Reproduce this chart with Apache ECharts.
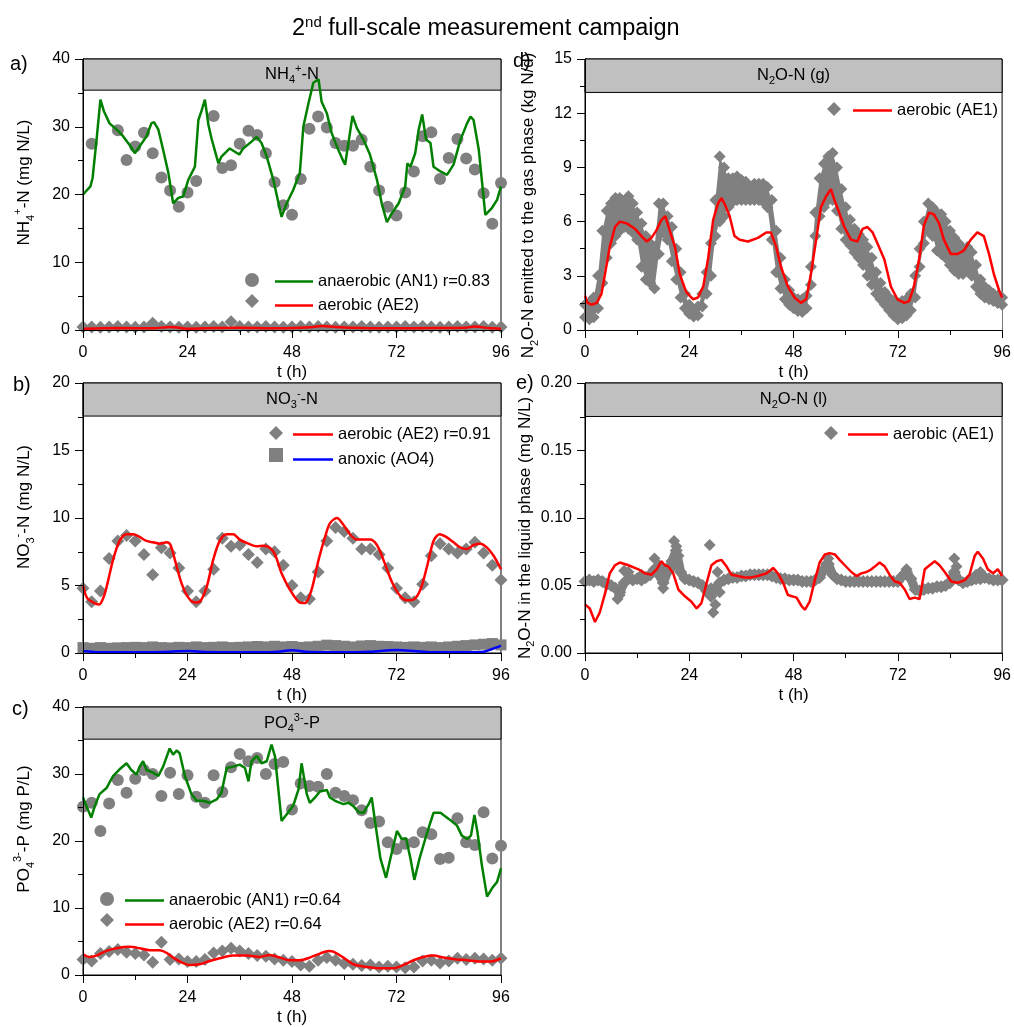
<!DOCTYPE html>
<html>
<head>
<meta charset="utf-8">
<script src="https://cdn.jsdelivr.net/npm/echarts@6/dist/echarts.min.js"></script>
<style>
  html, body { margin: 0; padding: 0; background: #fff; }
  #chart { width: 1014px; height: 1027px; }
</style>
</head>
<body>
<div id="chart"></div>
<script>
// sampling grids (h)
const T2 = [0,2,4,6,8,10,12,14,16,18,20,22,24,26,28,30,32,34,36,38,40,42,44,46,48,50,52,54,56,58,60,62,64,66,68,70,72,74,76,78,80,82,84,86,88,90,92,94,96];
const T1 = [0,1,2,3,4,5,6,7,8,9,10,11,12,13,14,15,16,17,18,19,20,21,22,23,24,25,26,27,28,29,30,31,32,33,34,35,36,37,38,39,40,41,42,43,44,45,46,47,48,49,50,51,52,53,54,55,56,57,58,59,60,61,62,63,64,65,66,67,68,69,70,71,72,73,74,75,76,77,78,79,80,81,82,83,84,85,86,87,88,89,90,91,92,93,94,95,96];

// a) NH4+-N
const nh4AN1Meas = [[2,27.5],[8,29.5],[10,25.1],[12,27.1],[14,29.1],[16,26.1],[18,22.5],[20,20.6],[22,18.2],[24,20.3],[26,22.0],[30,31.6],[32,23.9],[34,24.3],[36,27.5],[38,29.4],[40,28.8],[42,26.1],[44,21.8],[46,18.4],[48,17.0],[50,22.3],[52,29.7],[54,31.5],[56,29.9],[58,27.6],[60,27.2],[62,27.2],[64,28.1],[66,24.1],[68,20.6],[70,18.2],[72,16.9],[74,20.3],[76,23.4],[78,28.6],[80,29.2],[82,22.3],[84,25.4],[86,28.2],[88,25.3],[90,23.7],[92,20.2],[94,15.7],[96,21.7]];
const nh4AN1Model = [[0,20.0],[1.7,21.2],[2.2,22.4],[3.1,28],[4.0,34.0],[4.8,32.3],[6.1,30.5],[7.7,29.6],[9.2,28.6],[10.7,27.3],[11.9,26.1],[13.0,27.1],[14.6,28.6],[15.7,30.5],[16.3,30.7],[17.3,29.6],[18.4,26.6],[19.6,23.2],[20.7,18.7],[21.9,19.5],[23.0,19.7],[24.2,22.2],[25.7,24.1],[26.5,31.0],[27.2,32.3],[28.0,34.0],[28.8,30.3],[29.5,28.3],[31.1,24.6],[31.8,25.6],[33.7,26.8],[35.9,25.9],[36.8,26.8],[38.7,27.8],[39.9,28.5],[41.0,27.6],[42.2,25.6],[43.7,22.2],[45.6,16.7],[46.8,18.7],[48.3,20.7],[49.8,23.2],[50.6,30.0],[51.8,33.5],[52.9,36.5],[54.1,37.0],[54.8,33.7],[56.0,32.0],[57.1,29.1],[58.3,27.1],[59.8,24.9],[60.2,24.4],[61.9,31.6],[62.9,29.8],[64.4,28.1],[65.9,25.9],[67.5,22.2],[68.6,18.7],[69.8,15.9],[70.9,17.2],[72.5,18.7],[74.0,21.2],[74.5,24.6],[75.2,24.1],[76.3,26.1],[77.1,29.6],[77.9,31.8],[78.8,28.1],[79.8,27.6],[80.5,24.1],[82.1,23.4],[83.6,22.9],[85.1,24.4],[86.7,28.1],[88.2,30.5],[89.0,31.5],[89.7,31.0],[90.9,26.6],[92.4,17.0],[93.9,18.0],[95.1,19.2],[96,21.2]];
const nh4AE2Meas = [0.45,0.45,0.4,0.45,0.5,0.45,0.4,0.45,1.0,0.5,0.45,0.4,0.45,0.4,0.45,0.5,0.45,1.2,0.5,0.45,0.45,0.5,0.45,0.4,0.45,0.5,0.45,0.5,0.45,0.4,0.45,0.45,0.5,0.45,0.4,0.45,0.45,0.5,0.45,0.5,0.45,0.4,0.45,0.5,0.45,0.45,0.5,0.4,0.45];
const nh4AE2Model = [[0,0.2],[8,0.3],[16,0.25],[20,0.45],[24,0.2],[30,0.3],[36,0.35],[44,0.25],[48,0.3],[52,0.4],[55,0.6],[58,0.45],[64,0.3],[72,0.25],[80,0.3],[88,0.35],[90,0.5],[93,0.3],[96,0.2]];

// b) NO3--N
const no3AE2Meas = [4.8,3.8,4.6,7.0,8.3,8.7,8.3,7.3,5.8,7.8,7.4,6.3,4.6,3.8,4.6,6.2,8.5,7.9,8.0,7.3,6.7,7.7,7.5,6.5,5.0,4.1,4.0,6.0,8.3,9.3,9.0,8.5,7.7,7.7,7.3,6.3,4.8,4.1,3.8,5.1,7.2,8.1,7.7,7.4,7.7,8.2,7.4,6.5,5.4];
const no3AE2Model = [[0,5.0],[0.9,4.1],[2.3,3.75],[3.7,3.6],[4.8,4.2],[5.8,5.4],[6.9,6.9],[8.4,8.3],[10.0,8.8],[11.5,8.8],[13.0,8.6],[14.6,8.3],[16.1,8.2],[17.6,8.1],[19.2,8.2],[20.1,8.0],[21.1,6.9],[22.6,5.2],[24.2,4.1],[25.7,3.75],[26.8,3.8],[28.4,4.9],[29.9,6.9],[31.4,8.3],[33.0,8.8],[34.5,8.8],[36.0,8.4],[38.0,8.1],[39.9,7.9],[41.4,7.95],[42.9,7.8],[44.1,7.3],[45.6,5.9],[47.5,4.7],[49.5,3.8],[51.0,3.7],[52.5,4.7],[54.1,6.9],[55.6,8.6],[56.7,9.6],[58.3,10.0],[59.8,9.5],[61.3,8.8],[62.9,8.4],[64.4,8.4],[65.9,8.4],[67.5,8.0],[69.0,6.9],[70.9,5.3],[72.9,4.2],[74.4,3.9],[75.9,3.95],[77.5,4.7],[79.0,6.4],[80.5,8.3],[81.9,8.8],[83.4,8.6],[85.1,8.2],[86.7,7.8],[88.2,7.7],[89.7,8.0],[91.3,8.1],[92.8,7.8],[94.3,7.2],[96,6.2]];
const no3AO4Meas = [0.4,0.35,0.4,0.35,0.38,0.4,0.42,0.4,0.45,0.4,0.38,0.42,0.4,0.45,0.4,0.42,0.45,0.4,0.42,0.45,0.48,0.45,0.5,0.45,0.48,0.42,0.45,0.5,0.58,0.55,0.5,0.45,0.52,0.55,0.5,0.48,0.45,0.42,0.45,0.42,0.45,0.4,0.45,0.5,0.55,0.6,0.65,0.7,0.6];
const no3AO4Model = [[0,0.15],[4,0.05],[10,0.05],[20,0.1],[24,0.15],[28,0.08],[36,0.05],[44,0.08],[48,0.2],[52,0.07],[60,0.05],[66,0.1],[72,0.22],[76,0.15],[80,0.05],[88,0.05],[92,0.1],[94,0.3],[96,0.55]];

// c) PO4 3--P
const po4AN1Meas = [[0,25.1],[2,25.7],[4,21.5],[6,25.6],[8,29.1],[10,27.2],[12,29.3],[14,30.6],[16,30.0],[18,26.7],[20,30.2],[22,27.0],[24,29.8],[26,26.6],[28,25.7],[30,29.8],[32,27.3],[34,31.0],[36,33.0],[38,31.9],[40,32.4],[42,30.0],[44,31.5],[46,31.8],[48,24.7],[50,28.6],[52,28.2],[54,28.1],[56,30.0],[58,27.2],[60,26.7],[62,26.1],[64,24.6],[66,22.7],[68,22.9],[70,19.8],[72,18.8],[74,19.6],[76,19.8],[78,21.3],[80,21.0],[82,17.3],[84,17.5],[86,23.4],[88,19.8],[90,19.4],[92,24.3],[94,17.4],[96,19.3]];
const po4AN1Model = [[0,26.5],[0.9,25.0],[1.9,23.5],[2.7,25.2],[3.8,27.0],[5.4,27.9],[6.9,29.7],[8.4,30.7],[10.0,31.6],[11.1,30.6],[12.3,29.9],[13.0,31.1],[13.8,31.9],[14.6,30.6],[16.1,30.2],[17.3,29.7],[18.4,31.1],[19.9,33.8],[20.7,32.9],[21.5,33.5],[22.2,33.1],[23.4,29.7],[24.9,27.0],[26.1,26.0],[27.6,26.0],[29.1,25.7],[30.7,26.2],[31.8,27.2],[33.0,30.9],[34.5,31.1],[36.0,31.4],[37.2,30.9],[38.0,28.9],[38.7,31.9],[39.9,32.7],[41.0,31.6],[42.2,31.9],[43.3,34.4],[44.1,32.6],[45.6,23.0],[46.8,24.0],[48.3,25.3],[49.5,27.7],[50.2,31.6],[51.4,27.0],[52.1,25.7],[53.3,26.5],[54.4,27.4],[56.0,27.6],[56.7,26.5],[57.9,26.0],[59.8,25.5],[61.0,25.7],[62.1,25.2],[63.3,24.3],[64.4,24.2],[65.6,25.5],[66.3,26.5],[67.1,22.8],[68.3,17.4],[69.6,14.5],[70.6,17.4],[72.1,21.5],[73.2,20.3],[74.2,20.4],[75.2,17.4],[76.1,14.2],[77.3,17.4],[78.6,20.3],[79.8,22.8],[80.5,24.2],[82.1,24.2],[84.0,23.3],[85.9,22.3],[87.0,20.8],[88.2,20.3],[89.1,20.8],[89.9,23.9],[90.6,21.3],[91.6,16.4],[92.8,11.7],[93.9,12.9],[95.1,13.9],[96,15.9]];
const po4AE2Meas = [2.3,2.1,3.2,3.5,3.8,3.4,3.2,3.0,1.9,4.9,2.3,2.4,2.0,2.0,2.3,3.3,3.6,4.0,3.6,3.2,2.9,2.8,2.4,2.2,2.0,1.5,1.3,2.2,2.6,2.2,1.7,1.6,1.4,1.5,1.2,1.3,1.2,1.1,1.2,2.1,2.2,1.8,2.1,2.5,2.3,2.5,2.4,2.2,2.5];
const po4AE2Model = [[0,3.1],[1.5,2.7],[3.1,2.9],[5.4,3.6],[7.7,4.0],[10.7,4.2],[13.0,4.0],[15.3,3.7],[17.6,3.7],[19.2,3.3],[20.7,2.6],[22.6,1.9],[24.5,1.5],[26.8,1.6],[29.1,2.1],[31.4,2.5],[34.5,2.9],[37.6,2.9],[40.6,2.7],[42.9,3.0],[45.2,2.6],[47.5,2.2],[49.8,2.2],[52.1,2.6],[54.4,3.2],[56.4,3.6],[57.5,3.5],[59.8,2.6],[62.1,1.6],[65.2,1.2],[68.3,1.0],[71.3,1.0],[73.6,1.5],[75.9,2.2],[78.2,2.7],[80.5,2.9],[82.8,2.6],[85.1,2.4],[88.2,2.2],[91.3,2.0],[93.6,2.0],[96,2.5]];

// d) N2O-N gas phase: upper and lower edge of the measured band, hourly
const gasHi = [1.4,1.5,1.8,3.0,5.5,6.6,7.0,7.3,7.3,7.0, 7.4,7.0,6.5,5.9,5.2,4.8,4.6,7.0,7.0,6.3, 5.7,4.5,3.2,2.0,1.4,1.1,1.3,2.0,3.2,4.8, 7.2,9.6,9.0,8.4,8.4,8.5,8.3,8.2,7.9,8.1, 8.1,8.1,7.9,7.2,5.5,4.0,2.8,2.2,1.8,1.7, 1.7,1.9,3.5,6.5,8.4,9.2,9.6,9.8,9.0,7.8, 6.8,6.1,5.6,5.3,5.0,4.6,4.0,3.2,2.6,2.1, 1.8,1.6,1.5,1.6,1.7,2.0,3.0,4.5,6.0,7.0, 6.8,6.5,6.4,6.0,5.5,5.1,4.8,4.5,4.6,4.3, 3.6,2.8,2.4,2.2,2.0,1.9,1.8];
const gasLo = [0.7,0.6,0.7,1.2,2.6,4.0,4.8,5.2,5.5,5.7, 5.6,5.4,5.0,3.5,2.8,2.6,2.3,4.2,5.4,5.0, 3.8,2.8,1.8,1.2,0.9,0.75,0.8,1.3,2.0,3.0, 5.2,6.0,6.3,6.8,7.1,7.2,7.2,7.2,7.2,7.2, 7.2,7.1,6.8,5.0,3.2,2.3,1.7,1.4,1.2,1.05, 1.0,1.2,2.5,5.2,6.3,6.8,7.2,7.2,6.6,5.6, 5.0,4.7,4.3,4.0,3.6,3.0,2.5,2.0,1.7,1.4, 1.1,0.8,0.6,0.65,0.8,1.1,1.8,3.5,4.8,5.5, 5.2,4.4,4.2,4.0,3.6,3.3,3.1,3.1,3.3,3.0, 2.4,2.0,1.8,1.7,1.6,1.5,1.4];
const gasModel = [[0,1.9],[0.6,1.5],[1.5,1.4],[2.7,1.5],[3.8,2.0],[4.6,3.1],[5.7,4.6],[6.9,5.7],[8.0,6.0],[9.6,5.9],[11.5,5.6],[13.0,5.2],[14.2,4.9],[15.3,5.1],[16.4,5.5],[17.6,6.1],[18.5,6.3],[19.5,5.5],[20.7,4.6],[21.8,3.1],[23.3,2.1],[24.9,1.7],[26.0,1.8],[27.2,2.4],[28.3,3.9],[29.5,6.1],[30.6,7.0],[31.4,7.3],[32.1,7.0],[33.3,6.3],[34.4,5.2],[35.6,5.0],[37.5,4.9],[39.8,5.1],[41.7,5.4],[42.8,5.4],[44.0,4.6],[45.1,3.5],[46.7,2.4],[48.2,1.8],[49.7,1.5],[50.9,1.7],[52.0,3.1],[53.2,5.0],[54.3,6.8],[55.5,7.4],[56.6,7.8],[57.4,7.2],[58.5,6.5],[59.7,5.7],[61.2,5.0],[62.7,4.9],[63.9,5.6],[65.0,5.7],[66.2,5.4],[67.3,4.8],[68.9,3.9],[70.4,2.4],[71.9,1.7],[73.5,1.5],[74.6,1.6],[75.7,2.4],[76.9,3.9],[78.0,5.8],[79.2,6.5],[80.3,6.4],[81.5,5.9],[82.6,5.0],[84.2,4.2],[85.7,4.2],[87.2,4.4],[88.8,5.0],[90.3,5.4],[91.8,5.2],[93.0,4.2],[94.1,3.1],[95.3,2.2],[96,1.8]];

// e) N2O-N liquid phase
const liqMeas = [.053,.054,.053,.054,.053,.051,.050,.048,.045,.052, .055,.054,.055,.054,.056,.058,.062,.058,.052,.060, .068,.076,.060,.055,.054,.053,.052,.050,.046,.042, .048,.052,.054,.055,.056,.056,.057,.057,.058,.058, .058,.058,.058,.057,.056,.055,.055,.054,.054,.054, .053,.053,.053,.054,.056,.062,.066,.058,.055,.054, .053,.053,.053,.053,.053,.053,.053,.053,.053,.053, .053,.053,.053,.057,.060,.055,.047,.046,.047,.048, .048,.049,.049,.050,.052,.060,.054,.052,.053,.054, .055,.055,.056,.055,.054,.054,.054];
const liqMeasExtra = [[7.5,0.040],[8,0.043],[9,0.061],[10,0.060],[13,0.058],[16,0.070],[17,0.065],[18,0.048],[18.5,0.062],[20,0.063],[20.5,0.083],[21,0.079],[21.5,0.072],[28.7,0.080],[29,0.048],[29.5,0.030],[30,0.036],[30.5,0.060],[31,0.045],[55.5,0.066],[56,0.070],[74,0.062],[85,0.070],[85.5,0.064],[90,0.058],[91,0.060]];
const liqModel = [[0,0.036],[1.1,0.033],[2.3,0.023],[3.4,0.030],[4.6,0.044],[5.7,0.059],[6.9,0.065],[8.0,0.067],[10.0,0.065],[12.3,0.062],[13.8,0.059],[15.3,0.058],[16.5,0.062],[17.6,0.068],[18.4,0.065],[19.2,0.064],[20.3,0.059],[21.5,0.047],[23.0,0.042],[24.5,0.038],[25.7,0.033],[26.8,0.037],[28.0,0.052],[29.1,0.065],[30.3,0.068],[31.4,0.069],[32.6,0.064],[33.7,0.058],[35.2,0.057],[36.8,0.056],[38.3,0.056],[39.8,0.057],[41.8,0.059],[43.3,0.063],[44.4,0.059],[45.6,0.052],[46.7,0.043],[48.7,0.041],[49.8,0.035],[50.6,0.032],[51.7,0.038],[52.9,0.054],[54.0,0.067],[55.2,0.073],[56.3,0.074],[57.5,0.073],[58.6,0.069],[59.8,0.065],[61.3,0.060],[62.5,0.057],[63.6,0.059],[64.8,0.060],[65.9,0.062],[66.7,0.064],[67.8,0.067],[69.0,0.064],[70.1,0.058],[71.3,0.053],[72.4,0.052],[73.6,0.047],[74.7,0.040],[75.9,0.041],[77.0,0.040],[78.2,0.062],[79.3,0.065],[80.5,0.068],[81.6,0.065],[82.8,0.060],[84.3,0.053],[85.8,0.052],[87.4,0.054],[88.5,0.058],[89.7,0.072],[90.4,0.075],[91.6,0.070],[92.7,0.062],[93.9,0.059],[95.0,0.062],[96,0.057]];

const GRAY = '#808080', GREEN = '#008000', RED = '#ff0000', BLUE = '#0000ff';
const FONT = 'Liberation Sans, Arial, sans-serif';
const LINE_ICON = 'path://M0,0H40V2.7H0Z';
const rich = {
    sub: { fontSize: 11, lineHeight: 11, verticalAlign: 'bottom', fontFamily: FONT },
    sup: { fontSize: 11, lineHeight: 11, verticalAlign: 'top', fontFamily: FONT }
};

function zip(ts, vs) { return ts.map((t, i) => [t, vs[i]]); }

// grid a, b, c on the left, d, e on the right
const grids = [
    { left: 83, top: 59, width: 418, height: 271 },
    { left: 83, top: 383, width: 418, height: 270 },
    { left: 83, top: 707, width: 418, height: 271 },
    { left: 585, top: 59, width: 418, height: 271 },
    { left: 585, top: 383, width: 418, height: 270 }
].map(g => Object.assign(g, { show: true, borderColor: '#000', borderWidth: 1, backgroundColor: 'transparent' }));

function xAx(gi) {
    return {
        type: 'value', gridIndex: gi, min: 0, max: 96, interval: 24, z: 5,
        name: 't (h)', nameLocation: 'middle', nameGap: 34,
        nameTextStyle: { fontSize: 17, color: '#000', fontFamily: FONT },
        axisLine: { onZero: false, lineStyle: { color: '#000', width: 1 } },
        axisTick: { length: 8, lineStyle: { color: '#000' } },
        minorTick: { show: true, splitNumber: 2, length: 5, lineStyle: { color: '#000' } },
        axisLabel: { fontSize: 16, color: '#000', margin: 15, fontFamily: FONT },
        splitLine: { show: false }
    };
}

function yAx(gi, max, interval, name, digits, pad) {
    return {
        type: 'value', gridIndex: gi, min: 0, max: max, interval: interval, z: 5,
        name: name, nameLocation: 'middle', nameGap: gi < 3 ? 47 : 45,
        nameTextStyle: { fontSize: 17, lineHeight: 24, color: '#000', fontFamily: FONT, rich: rich, padding: pad },
        axisLine: { onZero: false, lineStyle: { color: '#000', width: 1 } },
        axisTick: { length: 8, lineStyle: { color: '#000' } },
        minorTick: { show: true, splitNumber: 2, length: 5, lineStyle: { color: '#000' } },
        axisLabel: { fontSize: 16, color: '#000', margin: 13, fontFamily: FONT,
            formatter: v => digits ? v.toFixed(digits) : String(v) },
        splitLine: { show: false }
    };
}

function header(from, to, text) {
    return {
        silent: true,
        itemStyle: { color: '#c0c0c0', borderColor: '#000', borderWidth: 1 },
        label: { show: true, position: 'inside', formatter: text, color: '#000',
            fontSize: 16.5, lineHeight: 22, fontFamily: FONT, rich: rich },
        data: [[{ xAxis: 0, yAxis: from }, { xAxis: 96, yAxis: to }]]
    };
}

function scat(name, gi, data, symbol, size, mark) {
    const s = { type: 'scatter', name: name, xAxisIndex: gi, yAxisIndex: gi, data: data,
        symbol: symbol, symbolSize: size, itemStyle: { color: GRAY, opacity: 1 }, z: 2, silent: true };
    if (mark) s.markArea = mark;
    return s;
}

function model(name, gi, data, color, smooth) {
    return { type: 'line', name: name, xAxisIndex: gi, yAxisIndex: gi, data: data,
        symbol: 'none', showSymbol: false, smooth: smooth || false,
        lineStyle: { color: color, width: 2.5 }, itemStyle: { color: color }, z: 3, silent: true };
}

function legends(symLeft, lineLeft, top, lineW, gap, symItems, lineNames) {
    return [
        { orient: 'vertical', left: symLeft, top: top, padding: 0, itemGap: gap,
          itemWidth: 14, itemHeight: 14, formatter: () => '', data: symItems,
          textStyle: { fontSize: 16, lineHeight: 14 }, selectedMode: false },
        { orient: 'vertical', left: lineLeft, top: top, padding: 0, itemGap: gap,
          itemWidth: lineW, itemHeight: 14, selectedMode: false,
          data: lineNames.map(n => ({ name: n, icon: LINE_ICON })),
          textStyle: { fontSize: 16.5, lineHeight: 14, color: '#000', fontFamily: FONT } }
    ];
}

const series = [
    // a
    scat('NH4 AN1 meas', 0, nh4AN1Meas, 'circle', 12, header(35.4, 40, 'NH{sub|4}{sup|+}-N')),
    scat('NH4 AE2 meas', 0, zip(T2, nh4AE2Meas), 'diamond', 13),
    model('anaerobic (AN1) r=0.83', 0, nh4AN1Model, GREEN),
    model('aerobic (AE2)', 0, nh4AE2Model, RED, 0.3),
    // b
    scat('NO3 AE2 meas', 1, zip(T2, no3AE2Meas), 'diamond', 13, header(17.55, 20, 'NO{sub|3}{sup|-}-N')),
    scat('NO3 AO4 meas', 1, zip(T2, no3AO4Meas), 'rect', 11),
    model('aerobic (AE2) r=0.91', 1, no3AE2Model, RED, 0.3),
    model('anoxic (AO4)', 1, no3AO4Model, BLUE, 0.3),
    // c
    scat('PO4 AN1 meas', 2, po4AN1Meas, 'circle', 12, header(35.2, 40, 'PO{sub|4}{sup|3-}-P')),
    scat('PO4 AE2 meas', 2, zip(T2, po4AE2Meas), 'diamond', 13),
    model('anaerobic (AN1) r=0.64', 2, po4AN1Model, GREEN),
    model('aerobic (AE2) r=0.64', 2, po4AE2Model, RED, 0.3),
    // d: measured band = gray fill below the upper edge, white fill below the lower edge
    { type: 'line', name: 'N2O gas meas', xAxisIndex: 3, yAxisIndex: 3, data: zip(T1, gasHi),
      symbol: 'diamond', symbolSize: 12, showSymbol: true, lineStyle: { width: 0 },
      areaStyle: { color: GRAY, opacity: 1 }, itemStyle: { color: GRAY }, z: 2, silent: true,
      markArea: header(13.15, 15, 'N{sub|2}O-N (g)') },
    { type: 'line', name: 'gas lo', xAxisIndex: 3, yAxisIndex: 3, data: zip(T1, gasLo),
      symbol: 'diamond', symbolSize: 12, showSymbol: true, lineStyle: { width: 0 },
      areaStyle: { color: '#fff', opacity: 1 }, itemStyle: { color: GRAY }, z: 2, silent: true },
    model('aerobic (AE1)', 3, gasModel, RED),
    // e: dense hourly record drawn as a thick gray trace of diamonds, plus single outliers
    { type: 'line', name: 'N2O liq meas', xAxisIndex: 4, yAxisIndex: 4, data: zip(T1, liqMeas),
      symbol: 'diamond', symbolSize: 13, showSymbol: true, lineStyle: { color: GRAY, width: 9 },
      itemStyle: { color: GRAY }, z: 2, silent: true,
      markArea: header(0.1752, 0.2, 'N{sub|2}O-N (l)') },
    scat('liq extra', 4, liqMeasExtra, 'diamond', 12),
    model('aerobic (AE1)', 4, liqModel, RED)
];

const chart = echarts.init(document.getElementById('chart'), null, { renderer: 'canvas' });
chart.setOption({
    animation: false,
    backgroundColor: '#fff',
    textStyle: { fontFamily: FONT },
    title: [
        { text: '2{sup|nd} full-scale measurement campaign', left: 292, top: 15, padding: 0,
          textStyle: { fontSize: 23.5, fontWeight: 'normal', color: '#000', lineHeight: 27, fontFamily: FONT,
            rich: { sup: { fontSize: 15, lineHeight: 15, verticalAlign: 'top', fontFamily: FONT } } } },
        { text: 'a)', left: 10, top: 54, padding: 0, textStyle: { fontSize: 20, fontWeight: 'normal', color: '#000' } },
        { text: 'b)', left: 13, top: 375, padding: 0, textStyle: { fontSize: 20, fontWeight: 'normal', color: '#000' } },
        { text: 'c)', left: 12, top: 699, padding: 0, textStyle: { fontSize: 20, fontWeight: 'normal', color: '#000' } },
        { text: 'd)', left: 513, top: 51, padding: 0, textStyle: { fontSize: 20, fontWeight: 'normal', color: '#000' } },
        { text: 'e)', left: 516, top: 373, padding: 0, textStyle: { fontSize: 20, fontWeight: 'normal', color: '#000' } }
    ],
    legend: [].concat(
        legends(245, 275, 273, 38, 7,
            [{ name: 'NH4 AN1 meas', icon: 'circle' }, { name: 'NH4 AE2 meas', icon: 'diamond' }],
            ['anaerobic (AN1) r=0.83', 'aerobic (AE2)']),
        legends(269, 293, 426, 40, 8,
            [{ name: 'NO3 AE2 meas', icon: 'diamond' }, { name: 'NO3 AO4 meas', icon: 'rect' }],
            ['aerobic (AE2) r=0.91', 'anoxic (AO4)']),
        legends(100, 125, 892, 39, 7,
            [{ name: 'PO4 AN1 meas', icon: 'circle' }, { name: 'PO4 AE2 meas', icon: 'diamond' }],
            ['anaerobic (AN1) r=0.64', 'aerobic (AE2) r=0.64']),
        legends(827, 853, 102, 39, 8, [{ name: 'N2O gas meas', icon: 'diamond' }], ['aerobic (AE1)']),
        legends(824, 848, 426, 40, 8, [{ name: 'N2O liq meas', icon: 'diamond' }], ['aerobic (AE1)'])
    ),
    grid: grids,
    xAxis: [xAx(0), xAx(1), xAx(2), xAx(3), xAx(4)],
    yAxis: [
        yAx(0, 40, 10, 'NH{sub|4}{sup|+}-N (mg N/L)', 0, [0, 0, 0, 24]),
        yAx(1, 20, 5, 'NO{sub|3}{sup|-}-N (mg N/L)', 0, [0, 0, 0, 22]),
        yAx(2, 40, 10, 'PO{sub|4}{sup|3-}-P (mg P/L)', 0, [0, 0, 0, 24]),
        yAx(3, 15, 3, 'N{sub|2}O-N emitted to the gas phase (kg N/d)', 0, [0, 22, 0, 0]),
        yAx(4, 0.2, 0.05, 'N{sub|2}O-N in the liquid phase (mg N/L)', 2, [0, 20, 0, 0])
    ],
    series: series
});
</script>
</body>
</html>
